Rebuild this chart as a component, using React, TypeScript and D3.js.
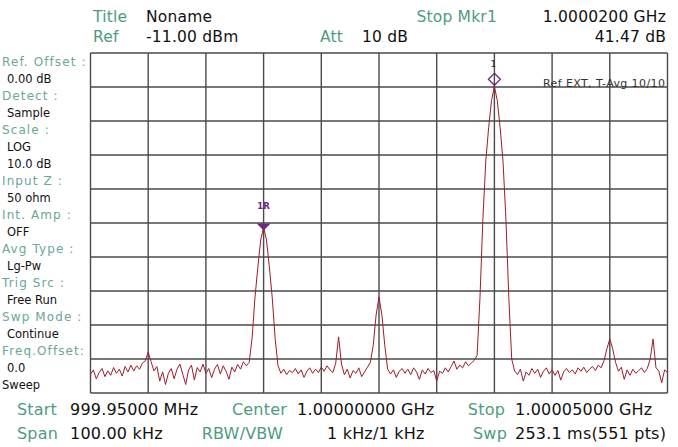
import * as d3 from "d3";
import { useEffect, useRef } from "react";

const W = 678;
const H = 447;
const plot = { left: 90.5, right: 667.5, top: 53, bottom: 393 };

// sweep settings
const startMHz = 999.95;
const stopMHz = 1000.05;
const refLevel = -11;
const dbPerDiv = 10;
const divisions = 10;

// trace, dBm (201 samples across the span)
const trace = [
  -105.5, -104.2, -106.8, -105.0, -103.8, -106.2, -104.5, -105.8, -103.5, -105.2,
  -104.0, -106.0, -103.2, -104.8, -102.8, -104.5, -103.0, -104.0, -102.2, -101.5,
  -99.0, -101.8, -104.5, -103.2, -107.5, -104.8, -108.5, -105.2, -103.8, -106.8,
  -104.0, -102.5, -105.5, -108.5, -104.2, -102.8, -107.2, -103.5, -104.8, -102.5,
  -105.2, -103.8, -106.5, -104.0, -102.6, -105.4, -103.0, -104.6, -107.0, -103.4,
  -104.8, -102.6, -104.0, -101.8, -103.0, -102.0, -95.0, -83.0, -74.0, -66.0,
  -62.3, -66.0, -74.0, -83.0, -95.0, -103.0, -105.2, -104.0, -105.6, -104.4,
  -105.0, -103.8, -105.4, -104.2, -106.4, -104.6, -103.6, -105.2, -104.0, -105.0,
  -103.4, -104.6, -103.0, -104.2, -105.0, -102.2, -94.5, -102.5, -105.6, -104.0,
  -106.6, -104.4, -105.2, -103.6, -106.2, -104.8, -103.4, -102.0, -97.0, -88.0,
  -82.8, -88.0, -97.0, -104.0, -105.4, -104.2, -106.4, -104.6, -103.8, -105.2,
  -104.0, -105.6, -103.6, -104.8, -107.0, -104.2, -105.4, -103.8, -105.0, -104.4,
  -107.5, -104.6, -105.2, -103.6, -104.8, -103.2, -101.6, -104.0, -102.8, -103.6,
  -101.8, -103.0, -102.2, -101.4, -100.0, -83.0, -60.0, -43.0, -33.0, -25.0,
  -20.8, -25.0, -33.0, -43.0, -60.0, -83.0, -101.0, -104.5, -105.6, -104.0,
  -107.5, -104.8, -105.8, -103.8, -105.2, -104.0, -106.4, -104.6, -103.6, -105.4,
  -104.2, -105.8, -104.4, -107.2, -104.8, -103.8, -105.0, -104.2, -105.4, -103.6,
  -104.6, -103.4, -105.0, -104.0, -103.2, -104.4, -102.8, -103.6, -101.5, -98.0,
  -95.1, -98.0, -102.0, -104.6, -103.4, -107.0, -104.2, -105.8, -104.0, -105.2,
  -104.4, -103.6, -105.0, -103.8, -101.0, -95.1, -103.5, -104.6, -108.0, -104.2,
  -105.0,
];

const markers = [
  { label: "1R", freq: 999.98, level: -62.3, shape: "triangle" },
  { label: "1", freq: 1000.02, level: -20.8, shape: "diamond" },
];

// left side panel, label / value lines
const sideLines = [
  ["Ref. Offset :", "label"], ["0.00 dB", "value"],
  ["Detect :", "label"], ["Sample", "value"],
  ["Scale :", "label"], ["LOG", "value"], ["10.0 dB", "value"],
  ["Input Z :", "label"], ["50 ohm", "value"],
  ["Int. Amp :", "label"], ["OFF", "value"],
  ["Avg Type :", "label"], ["Lg-Pw", "value"],
  ["Trig Src :", "label"], ["Free Run", "value"],
  ["Swp Mode :", "label"], ["Continue", "value"],
  ["Freq.Offset:", "label"], ["0.0", "value"],
  ["Sweep", "plain"],
];

const GREEN = "#4e9c80";
const SIDE_GREEN = "#6aa898";
const PURPLE = "#6b2a80";
const FONT = "'DejaVu Sans', sans-serif";

const App = () => {
  const svgRef = useRef<SVGSVGElement>(null);

  useEffect(() => {
    const svg = d3.select(svgRef.current);
    svg.selectAll("*").remove();

    const x = d3.scaleLinear().domain([startMHz, stopMHz]).range([plot.left, plot.right]);
    const y = d3
      .scaleLinear()
      .domain([refLevel - dbPerDiv * divisions, refLevel])
      .range([plot.bottom, plot.top]);
    const step = (stopMHz - startMHz) / (trace.length - 1);

    svg.append("rect").attr("width", W).attr("height", H).attr("fill", "#fff");

    // grid
    const grid = svg.append("g").attr("stroke", "#4a4a4a").attr("stroke-width", 1.4);
    const xDivs = d3.range(divisions + 1).map((i) => startMHz + ((stopMHz - startMHz) * i) / divisions);
    const yDivs = d3.range(divisions + 1).map((i) => refLevel - dbPerDiv * i);
    grid
      .selectAll(".vx")
      .data(xDivs)
      .join("line")
      .attr("x1", (d) => x(d))
      .attr("x2", (d) => x(d))
      .attr("y1", plot.top)
      .attr("y2", plot.bottom);
    grid
      .selectAll(".hy")
      .data(yDivs)
      .join("line")
      .attr("x1", plot.left)
      .attr("x2", plot.right)
      .attr("y1", (d) => y(d))
      .attr("y2", (d) => y(d));

    // trace
    const line = d3
      .line<number>()
      .x((_, i) => x(startMHz + i * step))
      .y((d) => y(d));
    svg
      .append("path")
      .datum(trace)
      .attr("fill", "none")
      .attr("stroke", "#9e1c2c")
      .attr("stroke-width", 1)
      .attr("stroke-linejoin", "round")
      .attr("d", line);

    // markers
    markers.forEach((m) => {
      const mx = x(m.freq);
      const my = y(m.level);
      const g = svg.append("g");
      if (m.shape === "diamond") {
        const cy = my - 7;
        g.append("path")
          .attr("d", `M${mx},${cy - 6}L${mx + 6},${cy}L${mx},${cy + 6}L${mx - 6},${cy}Z`)
          .attr("fill", "none")
          .attr("stroke", PURPLE)
          .attr("stroke-width", 1.3);
        g.append("text")
          .attr("x", mx - 1)
          .attr("y", cy - 12)
          .attr("text-anchor", "middle")
          .attr("font-size", 9)
          .attr("font-family", FONT)
          .attr("fill", "#3a2a50")
          .text(m.label);
      } else {
        g.append("path")
          .attr("d", `M${mx - 7},${my - 4}L${mx + 7},${my - 4}L${mx},${my + 3}Z`)
          .attr("fill", PURPLE);
        g.append("text")
          .attr("x", mx)
          .attr("y", my - 18)
          .attr("text-anchor", "middle")
          .attr("font-size", 8.5)
          .attr("font-weight", "bold")
          .attr("font-family", FONT)
          .attr("fill", PURPLE)
          .text(m.label);
      }
    });

    svg
      .append("text")
      .attr("x", 543)
      .attr("y", 87)
      .attr("font-size", 11)
      .attr("letter-spacing", 0.4)
      .attr("font-family", FONT)
      .attr("fill", "#333")
      .text("Ref EXT, T-Avg 10/10");

    // side panel
    svg
      .append("g")
      .selectAll("text")
      .data(sideLines)
      .join("text")
      .attr("x", (d) => (d[1] === "value" ? 7 : 2))
      .attr("y", (_, i) => 66 + 17 * i)
      .attr("font-size", (d) => (d[1] === "label" ? 12 : 11.5))
      .attr("letter-spacing", (d) => (d[1] === "label" ? 1.1 : 0))
      .attr("font-family", FONT)
      .attr("fill", (d) => (d[1] === "label" ? SIDE_GREEN : "#111"))
      .text((d) => d[0]);

    // header / footer readouts
    const info: [string, number, number, string, string, number][] = [
      ["Title", 93, 22, "start", GREEN, 15.5],
      ["Noname", 146, 22, "start", "#111", 15.5],
      ["Stop Mkr1", 497, 22, "end", GREEN, 15.5],
      ["1.0000200 GHz", 666, 22, "end", "#111", 15.5],
      ["Ref", 93, 42, "start", GREEN, 15.5],
      ["-11.00 dBm", 146, 42, "start", "#111", 15.5],
      ["Att", 320, 42, "start", GREEN, 15.5],
      ["10 dB", 362, 42, "start", "#111", 15.5],
      ["41.47 dB", 666, 42, "end", "#111", 15.5],
      ["Start", 17, 415, "start", GREEN, 16],
      ["999.95000 MHz", 70, 415, "start", "#111", 16],
      ["Center", 287, 415, "end", GREEN, 16],
      ["1.00000000 GHz", 297, 415, "start", "#111", 16],
      ["Stop", 505, 415, "end", GREEN, 16],
      ["1.00005000 GHz", 515, 415, "start", "#111", 16],
      ["Span", 17, 439, "start", GREEN, 16],
      ["100.00 kHz", 70, 439, "start", "#111", 16],
      ["RBW/VBW", 283, 439, "end", GREEN, 16],
      ["1 kHz/1 kHz", 327, 439, "start", "#111", 16],
      ["Swp", 507, 439, "end", GREEN, 16],
      ["253.1 ms(551 pts)", 515, 439, "start", "#111", 16],
    ];
    svg
      .append("g")
      .selectAll("text")
      .data(info)
      .join("text")
      .attr("x", (d) => d[1])
      .attr("y", (d) => d[2])
      .attr("text-anchor", (d) => d[3])
      .attr("font-size", (d) => d[5])
      .attr("letter-spacing", 0.2)
      .attr("font-family", FONT)
      .attr("fill", (d) => d[4])
      .text((d) => d[0]);
  }, []);

  return (
    <svg
      ref={svgRef}
      width={W}
      height={H}
      style={{ position: "absolute", left: 0, top: 0, display: "block" }}
    />
  );
};

export default App;
